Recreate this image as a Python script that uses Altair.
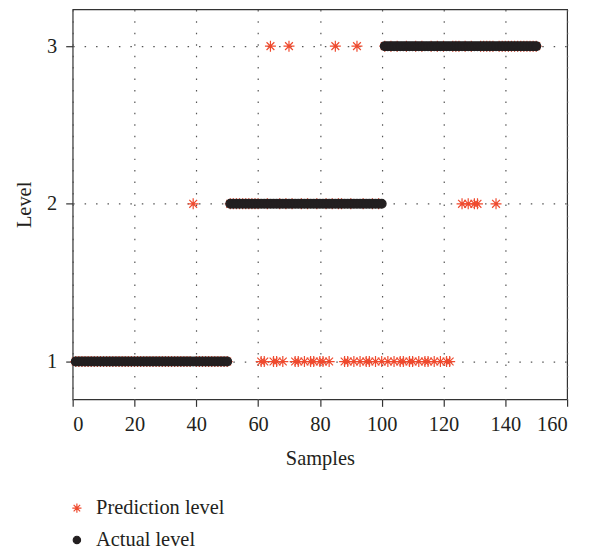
import altair as alt
import pandas as pd

# ---- data ----
samples = list(range(1, 151))
actual_level = [1] * 50 + [2] * 50 + [3] * 50

# misclassified predictions (sample -> predicted level)
pred_wrong_level1 = [61, 62, 65, 66, 68, 72, 73, 75, 77, 78, 80, 81, 83, 88, 89,
                     91, 93, 95, 96, 98, 100, 102, 104, 106, 107, 109, 110, 112,
                     114, 115, 117, 119, 121, 122]
pred_wrong_level2 = [39, 126, 128, 130, 131, 137]
pred_wrong_level3 = [64, 70, 85, 92]

x_ticks = [0, 20, 40, 60, 80, 100, 120, 140, 160]
y_ticks = [1, 2, 3]
series_names = ["Prediction level", "Actual level"]

pred_level = list(actual_level)
for s in pred_wrong_level1:
    pred_level[s - 1] = 1
for s in pred_wrong_level2:
    pred_level[s - 1] = 2
for s in pred_wrong_level3:
    pred_level[s - 1] = 3

rows = []
for s, v in zip(samples, pred_level):
    rows.append({"sample": s, "level": v, "series": series_names[0]})
for s, v in zip(samples, actual_level):
    rows.append({"sample": s, "level": v, "series": series_names[1]})
df = pd.DataFrame(rows)

RED = "#EF4A2E"
BLACK = "#231F20"
STAR = "M-1,0L1,0M0,-1L0,1M-0.71,-0.71L0.71,0.71M-0.71,0.71L0.71,-0.71"
DOT = "M-0.8,0A0.8,0.8 0 1,0 0.8,0A0.8,0.8 0 1,0 -0.8,0Z"
FONT = "Liberation Serif"
FS = 20.5

legend = alt.Legend(
    title=None, orient="none", legendX=-6, legendY=491, padding=0,
    labelFont=FONT, labelFontSize=FS, labelColor=BLACK, labelOffset=9,
    symbolSize=85, symbolStrokeWidth=1.2, rowPadding=11, direction="vertical",
)

chart = alt.Chart(df).mark_point(filled=True, strokeWidth=1.2, opacity=1, size=122).encode(
    x=alt.X("sample:Q",
            scale=alt.Scale(domain=[0, 160], nice=False, zero=False),
            axis=alt.Axis(values=x_ticks, title="Samples", labelPadding=8,
                          titlePadding=14)),
    y=alt.Y("level:Q",
            scale=alt.Scale(domain=[0.76, 3.233], nice=False, zero=False),
            axis=alt.Axis(values=y_ticks, title="Level", labelPadding=9,
                          titlePadding=12)),
    shape=alt.Shape("series:N", scale=alt.Scale(domain=series_names, range=[STAR, DOT]),
                    legend=legend),
    fill=alt.Fill("series:N", scale=alt.Scale(domain=series_names, range=[RED, BLACK]),
                  legend=legend),
    stroke=alt.Stroke("series:N", scale=alt.Scale(domain=series_names, range=[RED, BLACK]),
                      legend=legend),
).properties(
    width=497, height=392,
    autosize=alt.AutoSizeParams(type="none"),
    padding={"left": 65, "top": 0, "right": 20, "bottom": 151},
).configure_view(
    stroke="#333333", strokeWidth=1.2
).configure_axis(
    labelFont=FONT, labelFontSize=FS, labelColor=BLACK,
    titleFont=FONT, titleFontSize=FS, titleColor=BLACK, titleFontWeight="normal",
    domain=False, ticks=True, tickColor="#333333", tickSize=7, tickWidth=1.2,
    grid=True, gridColor="#555555", gridDash=[1.5, 10], gridWidth=1.2,
)

chart.save("out.html", embed_options={"renderer": "svg", "actions": False})
